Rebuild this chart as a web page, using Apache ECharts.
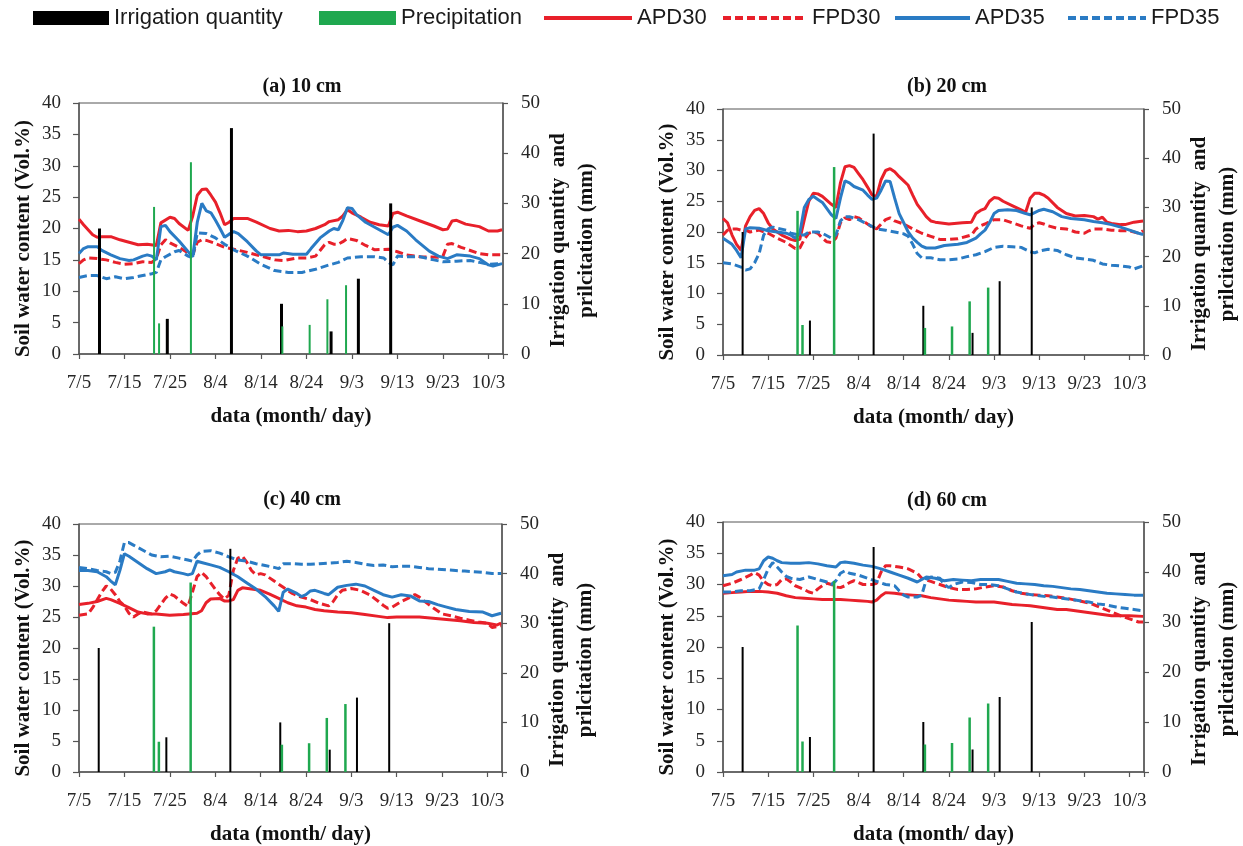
<!DOCTYPE html>
<html>
<head>
<meta charset="utf-8">
<title>Soil water content</title>
<script src="https://cdn.jsdelivr.net/npm/echarts@6.0.0/dist/echarts.min.js"></script>
<style>
html, body {margin: 0; padding: 0; background: #fff;}
#main {width: 1243px; height: 846px;}
</style>
</head>
<body>
<div id="main"></div>
<script>
/************************ data ***************************************************/
// x = days after 7/5
var tickLabels = ['7/5', '7/15', '7/25', '8/4', '8/14', '8/24', '9/3', '9/13', '9/23', '10/3'];
var depthTitles = ['(a) 10 cm', '(b) 20 cm', '(c) 40 cm', '(d) 60 cm'];

// same bars on every panel (mm, right axis)
var irrigationDays = [4.4, 19.3, 33.4, 44.4, 55.3, 61.3, 68.4];
var irrigationMm = [25, 7, 45, 10, 4.5, 15, 30];
var precipDays = [16.5, 17.6, 24.6, 44.7, 50.7, 54.6, 58.7];
var precipMm = [29.3, 6.1, 38.2, 5.5, 5.8, 10.9, 13.7];

// (a) 10 cm
var a_APD30 = [[0,21.5],[1,20.6],[2,19.8],[3,19.0],[4,18.6],[5,18.7],[7,18.7],[9,18.2],[11,17.8],[13,17.4],[15,17.5],[17,17.3],[18,20.9],[20,21.8],[21,21.6],[22,20.8],[24,19.7],[25,22.0],[26,25.3],[27,26.2],[28,26.3],[29,25.3],[30,24.2],[31,22.5],[32,20.6],[33,21.0],[34,21.6],[37,21.6],[39,21.0],[42,20.0],[44,19.6],[46,19.7],[48,19.5],[50,19.6],[52,20.0],[54,20.6],[55,21.1],[57,21.4],[58,22.0],[59,23.0],[60,22.5],[62,21.8],[64,21.0],[66,20.6],[68,20.4],[69,22.4],[70,22.6],[72,22.0],[75,21.2],[78,20.4],[80,19.8],[81,19.9],[82,21.2],[83,21.3],[85,20.7],[88,20.3],[90,19.6],[92,19.6],[93,19.8]];
var a_FPD30 = [[0,14.4],[1,15.0],[2,15.3],[4,15.2],[6,15.0],[8,14.6],[10,14.3],[12,14.4],[14,14.7],[16,14.6],[17,15.2],[18,17.4],[19,18.2],[20,17.7],[22,17.0],[24,16.1],[25,15.8],[26,17.8],[27,18.2],[28,18.1],[30,17.6],[32,17.0],[34,16.7],[37,16.2],[40,15.6],[43,15.0],[45,14.9],[48,15.3],[50,15.3],[52,15.6],[54,17.4],[55,17.8],[56,17.5],[57,17.5],[58,17.9],[59,18.4],[61,18.1],[63,17.3],[65,16.6],[68,16.7],[70,16.3],[72,15.8],[75,15.5],[79,15.4],[80,15.6],[81,17.5],[82,17.6],[84,17.0],[86,16.5],[88,16.0],[90,15.8],[93,15.8]];
var a_APD35 = [[0,16.0],[1,16.8],[2,17.1],[4,17.1],[5,16.5],[7,15.8],[9,15.2],[11,14.9],[12,15.0],[14,15.6],[15,15.8],[16,15.6],[17,15.0],[18,20.3],[19,20.5],[20,19.5],[22,18.0],[24,16.3],[25,15.5],[26,21.0],[27,24.0],[28,22.8],[29,22.5],[30,21.3],[31,20.0],[32,18.6],[33,19.1],[34,19.5],[35,19.2],[37,17.9],[39,16.4],[40,15.8],[42,15.8],[44,15.8],[45,16.1],[47,15.9],[50,15.9],[51,16.8],[53,18.5],[55,19.6],[56,20.0],[57,19.8],[58,21.3],[59,23.3],[60,23.2],[61,22.2],[63,21.0],[66,19.8],[68,19.0],[69,20.2],[70,20.5],[72,19.6],[74,18.2],[77,16.4],[79,15.6],[81,15.2],[83,15.8],[86,15.6],[88,15.2],[90,14.2],[91,14.0],[93,14.4]];
var a_FPD35 = [[0,12.2],[2,12.5],[4,12.5],[6,12.0],[8,12.3],[10,12.0],[12,12.2],[14,12.5],[16,12.8],[17,13.0],[18,15.0],[19,15.5],[21,16.3],[22,16.5],[24,15.6],[25,15.3],[26,19.3],[28,19.2],[30,18.5],[32,17.5],[34,16.6],[37,15.6],[40,14.3],[43,13.3],[46,13.0],[49,13.0],[52,13.5],[55,14.2],[57,14.6],[59,15.3],[62,15.5],[65,15.5],[67,15.3],[68,14.6],[69,14.2],[70,15.6],[72,15.5],[75,15.5],[78,15.0],[80,14.7],[83,14.8],[86,14.9],[88,14.6],[90,14.3],[93,14.4]];

// (b) 20 cm
var b_APD30 = [[0,22.2],[1,21.5],[2,19.5],[3,18.0],[4,17.0],[5,21.0],[6,22.5],[7,23.5],[8,23.8],[9,23.0],[10,21.5],[11,20.5],[13,19.5],[15,18.8],[16,18.6],[17,18.8],[18,22.0],[19,25.0],[20,26.3],[21,26.2],[22,25.8],[24,24.5],[25,24.0],[26,28.0],[27,30.6],[28,30.8],[29,30.5],[30,29.5],[31,28.5],[32,27.3],[33,26.0],[34,25.8],[35,28.5],[36,30.0],[37,30.3],[38,29.8],[39,29.0],[40,28.3],[41,27.6],[42,26.0],[43,24.5],[44,23.5],[45,22.5],[46,21.8],[47,21.6],[50,21.3],[53,21.5],[55,21.6],[56,23.0],[57,23.5],[58,23.8],[59,25.0],[60,25.6],[61,25.5],[62,25.0],[64,24.3],[66,23.6],[67,23.2],[68,25.5],[69,26.3],[70,26.3],[71,26.0],[72,25.5],[74,24.0],[76,23.0],[78,22.6],[80,22.7],[82,22.5],[83,22.1],[84,22.4],[85,21.6],[86,21.4],[88,21.2],[89,21.2],[91,21.6],[93,21.8]];
var b_FPD30 = [[0,19.5],[1,20.3],[2,20.5],[3,20.5],[4,20.3],[5,20.3],[6,20.0],[8,20.3],[10,19.8],[12,19.0],[14,18.3],[15,17.8],[16,17.3],[17,17.4],[18,18.8],[19,19.8],[20,20.0],[21,19.8],[22,19.0],[23,18.4],[24,18.3],[25,19.0],[26,21.5],[27,22.3],[28,22.0],[29,22.5],[30,22.3],[31,21.8],[32,21.3],[33,20.8],[34,20.5],[35,21.3],[36,22.0],[37,22.3],[38,21.8],[40,21.3],[42,20.5],[44,19.8],[46,19.3],[48,18.8],[50,18.8],[52,18.9],[54,19.3],[55,19.5],[56,20.5],[57,21.0],[58,21.3],[60,22.0],[62,22.0],[64,21.5],[66,21.0],[68,20.6],[69,21.3],[70,21.5],[71,21.3],[72,21.0],[74,20.6],[76,20.5],[78,20.0],[80,19.8],[81,20.2],[82,20.5],[84,20.5],[86,20.3],[88,20.2],[90,20.2],[92,19.8],[93,20.2]];
var b_APD35 = [[0,19.0],[2,18.0],[3,17.0],[4,15.8],[5,20.5],[6,20.7],[8,20.6],[10,20.2],[12,20.0],[14,19.8],[15,19.5],[16,19.0],[17,19.8],[18,24.0],[19,25.3],[20,25.8],[21,25.3],[22,24.8],[24,22.8],[25,22.2],[26,25.5],[27,28.3],[28,28.0],[29,27.4],[31,26.8],[32,26.0],[33,25.3],[34,25.5],[35,26.8],[36,28.3],[37,28.2],[38,25.5],[39,23.0],[40,21.5],[41,20.0],[42,19.0],[43,18.3],[44,17.7],[45,17.4],[47,17.4],[49,17.8],[52,18.0],[54,18.3],[56,19.0],[57,19.7],[58,20.3],[59,21.5],[60,23.0],[61,23.5],[63,23.6],[65,23.5],[67,23.0],[68,22.8],[70,23.5],[71,23.7],[73,23.3],[75,22.5],[77,22.2],[80,22.0],[82,21.7],[84,21.5],[86,21.2],[88,20.8],[90,20.3],[92,19.8],[93,19.6]];
var b_FPD35 = [[0,15.0],[2,14.8],[4,14.3],[5,13.8],[6,14.0],[7,15.0],[8,16.5],[9,19.5],[10,20.5],[11,20.8],[12,20.6],[14,20.3],[15,19.8],[17,19.5],[18,19.5],[19,20.0],[21,20.0],[22,19.8],[24,19.0],[25,19.5],[26,21.8],[27,22.5],[28,22.5],[30,22.0],[32,21.3],[34,20.5],[36,20.3],[38,20.0],[40,19.7],[41,19.3],[42,18.0],[43,16.5],[44,15.8],[46,15.8],[48,15.5],[50,15.5],[52,15.6],[54,16.0],[56,16.3],[58,16.8],[60,17.5],[62,17.7],[64,17.6],[66,17.5],[68,16.8],[69,16.6],[70,16.9],[72,17.2],[74,17.0],[76,16.3],[78,15.8],[80,15.6],[82,15.4],[84,14.8],[86,14.6],[88,14.5],[90,14.3],[91,14.0],[93,14.5]];

// (c) 40 cm
var c_APD30 = [[0,27.0],[2,27.2],[4,27.5],[6,28.0],[7,27.8],[9,27.2],[11,26.5],[13,25.8],[15,25.5],[17,25.5],[20,25.3],[23,25.4],[26,25.6],[27,26.0],[28,27.3],[29,27.9],[31,28.0],[32,27.6],[33,27.6],[34,27.8],[35,29.3],[36,29.7],[38,29.5],[40,29.3],[42,28.7],[44,28.0],[46,27.3],[48,26.8],[50,26.6],[52,26.2],[54,26.0],[57,25.8],[60,25.7],[63,25.4],[66,25.1],[68,24.9],[70,25.0],[72,25.0],[75,25.0],[78,24.8],[81,24.6],[84,24.4],[87,24.1],[90,24.0],[92,23.7],[93,24.0]];
var c_FPD30 = [[0,25.3],[2,25.5],[3,26.5],[5,29.0],[6,30.0],[7,29.5],[8,28.6],[9,27.5],[10,26.8],[11,25.6],[12,25.0],[13,25.5],[14,25.8],[16,25.5],[17,26.0],[18,27.0],[19,28.0],[20,28.7],[21,28.4],[22,27.8],[23,27.2],[24,26.7],[25,29.0],[26,31.5],[27,32.2],[28,31.5],[29,30.5],[30,29.5],[31,28.6],[32,27.9],[33,28.5],[34,32.5],[35,34.5],[36,34.8],[37,33.8],[38,32.5],[39,31.8],[40,32.0],[41,31.8],[43,30.8],[45,29.8],[47,28.8],[49,28.2],[51,27.8],[53,27.2],[55,26.8],[56,27.5],[57,28.6],[58,29.3],[60,29.6],[62,29.3],[64,28.6],[66,27.5],[67,26.9],[68,26.4],[69,26.6],[71,27.5],[73,28.2],[74,28.6],[75,28.2],[76,27.6],[78,26.5],[80,25.5],[82,25.2],[84,24.8],[86,24.5],[88,24.2],[90,24.0],[91,23.3],[93,23.6]];
var c_APD35 = [[0,32.5],[2,32.5],[4,32.3],[6,31.5],[7,30.8],[8,30.2],[9,32.5],[10,35.2],[11,34.8],[13,33.8],[15,32.8],[17,32.0],[19,32.3],[20,32.6],[21,32.3],[23,32.0],[24,31.8],[25,32.0],[26,34.0],[27,33.8],[29,33.4],[31,33.0],[33,32.3],[35,31.5],[37,30.5],[39,29.5],[41,28.3],[43,26.8],[44,25.9],[45,29.0],[46,29.5],[48,28.8],[49,28.3],[50,28.6],[51,29.2],[52,29.3],[54,28.8],[55,28.6],[57,29.8],[59,30.1],[61,30.3],[63,30.0],[65,29.3],[67,28.6],[69,28.2],[71,28.6],[73,28.4],[75,27.6],[77,27.5],[79,27.0],[81,26.6],[83,26.2],[86,25.9],[89,25.8],[91,25.2],[93,25.6]];
var c_FPD35 = [[0,33.0],[2,32.8],[4,32.5],[6,32.3],[7,32.0],[8,32.2],[9,34.0],[10,37.0],[11,37.0],[12,36.6],[14,35.8],[16,35.0],[18,34.7],[20,34.8],[22,34.5],[24,34.2],[25,34.0],[26,35.0],[27,35.6],[29,35.7],[31,35.3],[33,34.7],[35,34.2],[37,34.0],[39,33.6],[41,33.3],[43,33.0],[44,32.8],[45,33.6],[47,33.6],[49,33.5],[51,33.5],[53,33.6],[55,33.7],[57,33.8],[59,34.0],[61,33.8],[63,33.5],[65,33.3],[67,33.4],[69,33.1],[71,33.2],[73,33.2],[75,33.0],[77,32.8],[79,32.7],[81,32.6],[83,32.5],[85,32.4],[87,32.3],[89,32.2],[91,32.0],[93,32.0]];

// (d) 60 cm
var d_APD30 = [[0,28.6],[2,28.7],[4,28.8],[6,28.9],[8,28.9],[10,28.8],[12,28.6],[14,28.2],[16,27.9],[18,27.8],[20,27.7],[22,27.6],[24,27.6],[26,27.6],[28,27.5],[30,27.4],[32,27.3],[33,27.2],[34,27.5],[35,28.2],[36,28.7],[38,28.6],[40,28.4],[42,28.3],[44,28.2],[46,27.9],[48,27.7],[50,27.5],[52,27.4],[54,27.3],[56,27.2],[58,27.2],[60,27.2],[62,27.0],[64,26.8],[66,26.7],[68,26.6],[70,26.4],[72,26.2],[74,26.0],[76,26.0],[78,25.8],[80,25.6],[82,25.4],[84,25.2],[86,25.0],[88,25.0],[90,25.0],[93,24.9]];
var d_FPD30 = [[0,29.8],[2,30.2],[4,30.8],[6,31.5],[7,31.9],[8,31.5],[9,30.5],[10,30.0],[11,29.8],[12,30.0],[13,30.8],[14,30.9],[15,30.4],[16,29.8],[17,29.5],[18,29.2],[19,28.8],[20,28.6],[21,29.3],[22,29.8],[23,30.2],[24,30.0],[25,29.6],[26,29.5],[27,29.8],[28,30.3],[29,30.6],[30,30.3],[31,30.0],[33,30.0],[34,30.2],[35,32.0],[36,33.0],[37,33.0],[39,32.8],[41,32.5],[43,31.8],[44,31.0],[46,30.5],[48,30.0],[50,29.5],[52,29.2],[54,29.2],[56,29.3],[58,29.6],[60,29.8],[62,29.6],[64,29.0],[66,28.6],[68,28.4],[70,28.3],[72,28.2],[74,28.0],[76,27.8],[78,27.5],[80,27.2],[82,26.8],[84,26.2],[86,25.6],[88,25.0],[90,24.5],[92,24.0],[93,24.0]];
var d_APD35 = [[0,31.4],[2,31.6],[3,32.0],[5,32.3],[7,32.3],[8,32.5],[9,33.8],[10,34.4],[11,34.2],[12,33.8],[13,33.5],[15,33.4],[17,33.4],[19,33.5],[21,33.3],[23,33.0],[25,32.8],[26,33.5],[27,33.6],[29,33.4],[31,33.1],[33,32.9],[35,32.5],[37,32.0],[39,31.5],[41,31.0],[43,30.4],[44,30.8],[45,31.2],[47,31.0],[49,30.6],[51,30.8],[53,30.7],[55,30.6],[57,30.8],[59,30.8],[61,30.8],[63,30.5],[65,30.2],[67,30.1],[69,30.0],[71,29.8],[73,29.7],[75,29.5],[77,29.3],[79,29.2],[81,29.0],[83,28.8],[85,28.6],[87,28.5],[89,28.4],[91,28.3],[93,28.3]];
var d_FPD35 = [[0,28.8],[2,28.8],[4,29.0],[6,29.0],[8,29.3],[9,30.8],[10,32.5],[11,33.5],[12,32.8],[13,32.0],[14,31.3],[15,31.0],[17,30.8],[19,31.2],[21,30.8],[23,30.4],[24,30.0],[25,30.6],[26,31.8],[27,32.2],[28,31.8],[30,31.5],[32,31.0],[34,30.5],[36,30.0],[38,29.8],[39,29.0],[40,28.3],[41,28.0],[43,28.0],[44,28.3],[45,30.8],[46,31.2],[48,31.0],[49,30.0],[50,29.5],[51,30.0],[53,30.4],[55,30.3],[57,30.0],[59,30.0],[61,29.8],[63,29.3],[65,28.8],[67,28.5],[69,28.3],[71,28.1],[73,28.0],[75,27.8],[77,27.6],[79,27.4],[81,27.2],[83,26.9],[85,26.7],[87,26.4],[89,26.2],[91,26.0],[93,25.8]];

/************************ layout / style *******************************/
var SERIF = "'Liberation Serif', 'Times New Roman', serif";
var SANS = "'Liberation Sans', Arial, sans-serif";
var RED = '#e8202a', BLUE = '#2a7bc4', GREEN = '#1fa84f', BLACK = '#000000';
var AXIS_COLOR = '#555555', TEXT_COLOR = '#262626';

var panelLines = [
    [a_APD30, a_FPD30, a_APD35, a_FPD35],
    [b_APD30, b_FPD30, b_APD35, b_FPD35],
    [c_APD30, c_FPD30, c_APD35, c_FPD35],
    [d_APD30, d_FPD30, d_APD35, d_FPD35]
];
var grids = [
    {left: 79, top: 103, width: 424, height: 251},
    {left: 723, top: 109, width: 424, height: 246},
    {left: 79, top: 524, width: 423, height: 251},
    {left: 723, top: 522, width: 424, height: 253}
];
var titlePos = [[302, 77], [947, 77], [302, 490], [947, 491]];
var barWidths = [[3, 2], [2, 2.5], [2, 2.5], [2, 2.5]]; // [irrigation, precipitation]

function dayLabel(v) {
    if (v % 10 !== 0) return '';
    return tickLabels[v / 10] || '';
}

function pairs(days, vals) {
    var out = [];
    for (var i = 0; i < days.length; i++) out.push([days[i], vals[i]]);
    return out;
}

var option = {
    backgroundColor: '#fff',
    animation: false,
    title: [], grid: [], xAxis: [], yAxis: [], series: [], legend: []
};

// legend, one block per item so they sit where the figure has them
var legendItems = [
    {name: 'Irrigation quantity', icon: 'rect', left: 33, w: 76},
    {name: 'Precipitation', icon: 'rect', left: 319, w: 77},
    {name: 'APD30', left: 542, w: 88},
    {name: 'FPD30', left: 721, w: 84},
    {name: 'APD35', left: 893, w: 75},
    {name: 'FPD35', left: 1066, w: 78}
];
legendItems.forEach(function (it) {
    var d = {name: it.name};
    var lg = {
        left: it.left, top: 7, itemWidth: it.w, itemHeight: 14, itemGap: 0, padding: 0,
        selectedMode: false, data: [d],
        lineStyle: {width: 4},
        textStyle: {fontFamily: SANS, fontSize: 22, color: '#1a1a1a'}
    };
    if (it.icon) d.icon = it.icon;
    else lg.itemStyle = {opacity: 0, borderWidth: 0}; // hide the little circle on line icons
    option.legend.push(lg);
});

var lineDefs = [
    {name: 'APD30', color: RED, type: 'solid'},
    {name: 'FPD30', color: RED, type: [8, 4]},
    {name: 'APD35', color: BLUE, type: 'solid'},
    {name: 'FPD35', color: BLUE, type: [8, 4]}
];

var nameFont = {fontFamily: SERIF, fontWeight: 'bold', fontSize: 21, color: '#111'};

for (var p = 0; p < 4; p++) {
    option.title.push({
        text: depthTitles[p], left: titlePos[p][0], top: titlePos[p][1], textAlign: 'center', padding: 0,
        textStyle: {fontFamily: SERIF, fontWeight: 'bold', fontSize: 20, color: '#111'}
    });
    var g = grids[p];
    option.grid.push({left: g.left, top: g.top, width: g.width, height: g.height,
        show: true, borderColor: AXIS_COLOR, borderWidth: 1, containLabel: false});

    option.xAxis.push({
        gridIndex: p, type: 'value', min: 0, max: 93.2, interval: 10,
        axisLine: {onZero: false, lineStyle: {color: AXIS_COLOR, width: 1.5}},
        axisTick: {show: true, length: 5, lineStyle: {color: AXIS_COLOR, width: 1.2}},
        axisLabel: {formatter: dayLabel, margin: 20, color: TEXT_COLOR, fontFamily: SERIF, fontSize: 19},
        splitLine: {show: false},
        name: 'data (month/ day)', nameLocation: 'middle', nameGap: 52,
        nameTextStyle: nameFont
    });
    option.yAxis.push({
        gridIndex: p, type: 'value', position: 'left', min: 0, max: 40, interval: 5,
        axisLine: {show: true, lineStyle: {color: AXIS_COLOR, width: 1.5}},
        axisTick: {show: true, length: 6, lineStyle: {color: AXIS_COLOR, width: 1.2}},
        axisLabel: {margin: 18, color: TEXT_COLOR, fontFamily: SERIF, fontSize: 19},
        splitLine: {show: false},
        name: 'Soil water content (Vol.%)', nameLocation: 'middle', nameRotate: 90, nameGap: 45,
        nameTextStyle: Object.assign({padding: [0, 20, 0, 0]}, nameFont)
    });
    option.yAxis.push({
        gridIndex: p, type: 'value', position: 'right', min: 0, max: 50, interval: 10,
        axisLine: {show: true, lineStyle: {color: AXIS_COLOR, width: 1.5}},
        axisTick: {show: true, length: 5, lineStyle: {color: AXIS_COLOR, width: 1.2}},
        axisLabel: {margin: 18, color: TEXT_COLOR, fontFamily: SERIF, fontSize: 19},
        splitLine: {show: false},
        name: 'Irrigation quantity  and\nprilcitation (mm)', nameLocation: 'middle', nameRotate: 90, nameGap: 42,
        nameTextStyle: Object.assign({lineHeight: 28, padding: [0, 24, 0, 0]}, nameFont)
    });

    // soil water lines
    for (var k = 0; k < 4; k++) {
        var ld = lineDefs[k];
        option.series.push({
            name: ld.name, type: 'line', xAxisIndex: p, yAxisIndex: p * 2,
            data: panelLines[p][k], symbol: 'none', color: ld.color, z: 2,
            lineStyle: {color: ld.color, width: 3, type: ld.type}
        });
    }
    // bars on the mm axis
    option.series.push({
        name: 'Irrigation quantity', type: 'bar', xAxisIndex: p, yAxisIndex: p * 2 + 1,
        data: pairs(irrigationDays, irrigationMm), barWidth: barWidths[p][0], barGap: '-100%',
        color: BLACK, itemStyle: {color: BLACK}, z: 3
    });
    option.series.push({
        name: 'Precipitation', type: 'bar', xAxisIndex: p, yAxisIndex: p * 2 + 1,
        data: pairs(precipDays, precipMm), barWidth: barWidths[p][1], barGap: '-100%',
        color: GREEN, itemStyle: {color: GREEN}, z: 4
    });
}

var chart = echarts.init(document.getElementById('main'), null, {renderer: 'canvas'});
chart.setOption(option);
</script>
</body>
</html>
